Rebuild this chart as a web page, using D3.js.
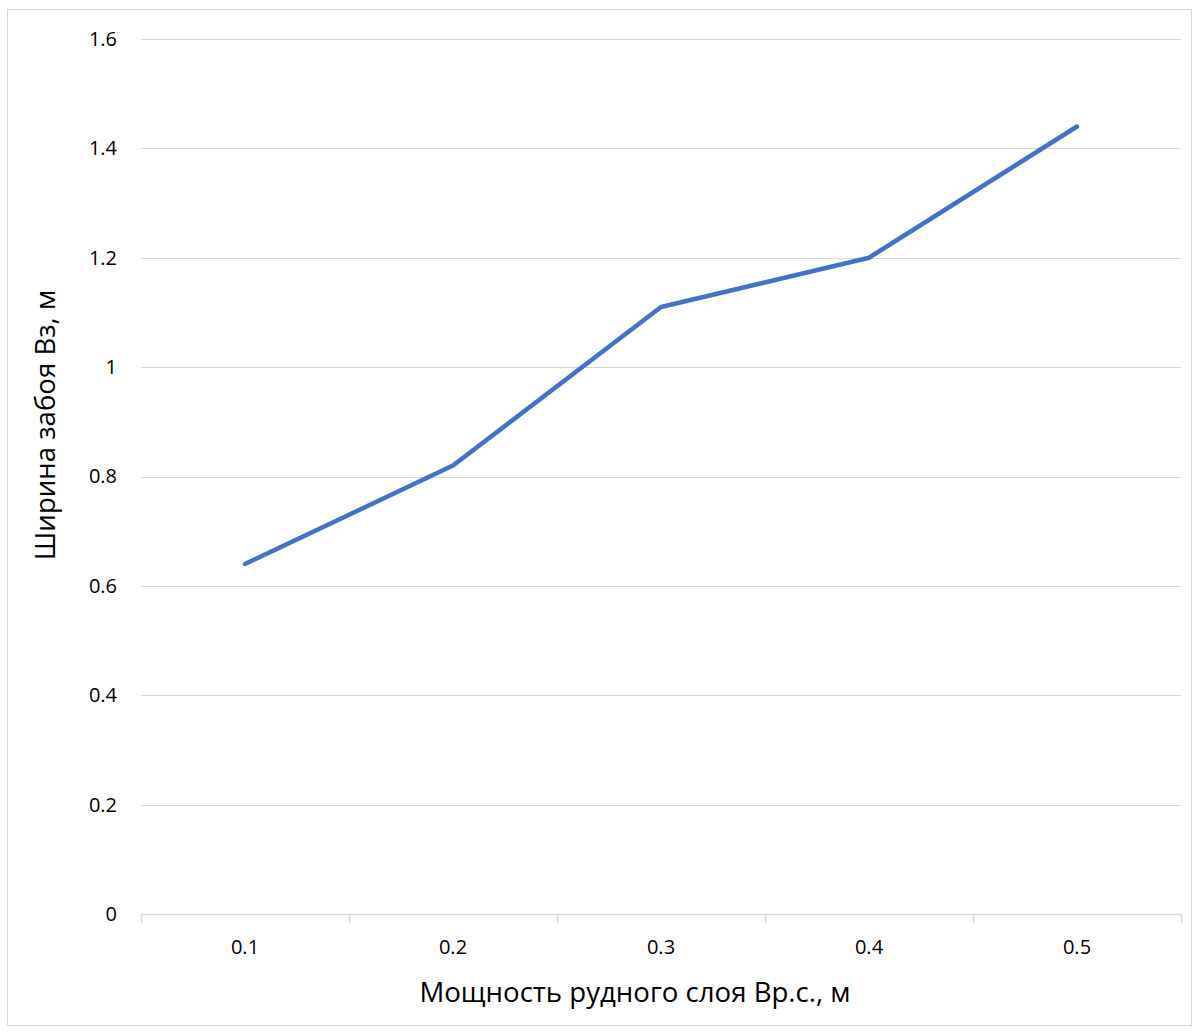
<!DOCTYPE html>
<html>
<head>
<meta charset="utf-8">
<script src="https://cdn.jsdelivr.net/npm/d3@7"></script>
<style>
  body { margin: 0; background: #fff; }
  svg { display: block; }
  text { font-family: "Open Sans", "Noto Sans", sans-serif; fill: #000; }
</style>
</head>
<body>
<svg id="chart" width="1200" height="1034"></svg>
<script>
// Ore layer thickness (m) and face width (m)
const categories = ["0.1", "0.2", "0.3", "0.4", "0.5"];
const values = [0.64, 0.82, 1.11, 1.2, 1.44];
const yTicks = [0, 0.2, 0.4, 0.6, 0.8, 1, 1.2, 1.4, 1.6];
const xTitle = "Мощность рудного слоя Вр.с., м";
const yTitle = "Ширина забоя Вз, м";

const svg = d3.select("#chart");
const plot = { left: 141, right: 1181, top: 39, bottom: 914 };

// chart frame
svg.append("rect")
  .attr("x", 7.5).attr("y", 9.5)
  .attr("width", 1184).attr("height", 1016)
  .attr("fill", "#fff").attr("stroke", "#d9d9d9").attr("stroke-width", 1);

const x = d3.scaleBand().domain(categories).range([plot.left, plot.right]).padding(0);
const y = d3.scaleLinear().domain([0, 1.6]).range([plot.bottom, plot.top]);

// horizontal gridlines
svg.append("g")
  .selectAll("line")
  .data(yTicks.filter(d => d !== 0))
  .join("line")
  .attr("x1", plot.left).attr("x2", plot.right)
  .attr("y1", d => Math.round(y(d)) + 0.5).attr("y2", d => Math.round(y(d)) + 0.5)
  .attr("stroke", "#d9d9d9").attr("stroke-width", 1);

// y axis labels
const yAxis = d3.axisLeft(y).tickValues(yTicks).tickSize(0).tickPadding(0)
  .tickFormat(d => String(d));
svg.append("g")
  .attr("transform", "translate(117,0)")
  .call(yAxis)
  .call(g => g.select(".domain").remove())
  .call(g => g.selectAll("text")
    .attr("font-size", 20)
    .attr("font-family", "'Open Sans', sans-serif")
    .attr("fill", "#000"));

// x axis with tick marks between categories
const xAxisG = svg.append("g").attr("transform", `translate(0,${plot.bottom})`);
xAxisG.append("line")
  .attr("x1", plot.left).attr("x2", plot.right)
  .attr("y1", 0.5).attr("y2", 0.5)
  .attr("stroke", "#d9d9d9").attr("stroke-width", 1.5);
const boundaries = categories.map(c => x(c)).concat([x(categories[categories.length - 1]) + x.bandwidth()]);
xAxisG.selectAll("line.tick")
  .data(boundaries)
  .join("line")
  .attr("class", "tick")
  .attr("x1", d => Math.round(d) + 0.5).attr("x2", d => Math.round(d) + 0.5)
  .attr("y1", 0).attr("y2", 9)
  .attr("stroke", "#d9d9d9").attr("stroke-width", 1.5);
xAxisG.selectAll("text")
  .data(categories)
  .join("text")
  .attr("x", d => x(d) + x.bandwidth() / 2)
  .attr("y", 40)
  .attr("text-anchor", "middle")
  .attr("font-size", 20)
  .text(d => d);

// series line
const line = d3.line()
  .x((d, i) => x(categories[i]) + x.bandwidth() / 2)
  .y(d => y(d));
svg.append("path")
  .datum(values)
  .attr("d", line)
  .attr("fill", "none")
  .attr("stroke", "#4472C4")
  .attr("stroke-width", 4.5)
  .attr("stroke-linejoin", "round")
  .attr("stroke-linecap", "round");

// axis titles
svg.append("text")
  .attr("x", 635)
  .attr("y", 1002)
  .attr("text-anchor", "middle")
  .attr("font-size", 27.6)
  .text(xTitle);

svg.append("text")
  .attr("transform", "translate(55,425) rotate(-90)")
  .attr("text-anchor", "middle")
  .attr("font-size", 27.6)
  .text(yTitle);
</script>
</body>
</html>
